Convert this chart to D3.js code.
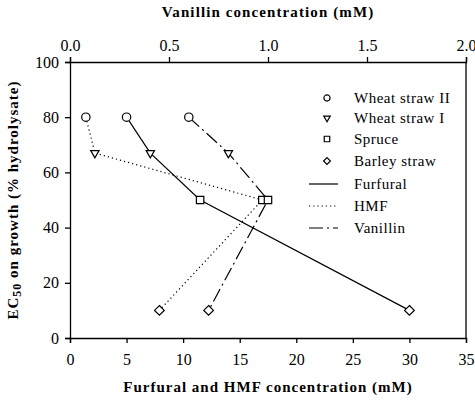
<!DOCTYPE html>
<html><head><meta charset="utf-8">
<script src="https://cdn.jsdelivr.net/npm/d3@7/dist/d3.min.js"></script>
<style>body{margin:0;background:#fff}svg{display:block}</style>
</head><body>
<svg id="c" width="475" height="404"></svg>
<script>
const substrates = ["Wheat straw II", "Wheat straw I", "Spruce", "Barley straw"];
const ec50 = [80, 67, 50, 10];
const furfural = [5.0, 7.1, 11.5, 30.0];
const hmf = [1.4, 2.2, 17.0, 7.9];
const vanillin = [0.60, 0.80, 1.00, 0.70];
const bottomTicks = [0, 5, 10, 15, 20, 25, 30, 35];
const topTicks = [0.0, 0.5, 1.0, 1.5, 2.0];
const yTicks = [0, 20, 40, 60, 80, 100];
const symbols = [d3.symbolCircle, d3.symbolTriangle2, d3.symbolSquare, d3.symbolDiamond2];
const rotations = [0, 180, 0, 0];

const FONT = "Liberation Serif, Times New Roman, Tinos, DejaVu Serif, serif";
const svg = d3.select("#c").attr("font-family", FONT);
const L = 70, R = 466, T = 62, B = 338;
const x = d3.scaleLinear().domain([0, 35]).range([L, R]);
const xTop = d3.scaleLinear().domain([0, 2]).range([L, R]);
const y = d3.scaleLinear().domain([0, 100]).range([B, T]);

function styleAxis(g){
  g.attr("font-family", FONT).attr("font-size", 16);
  g.selectAll("path").attr("stroke","#000").attr("stroke-width",1.3);
  g.selectAll("line").attr("stroke","#000").attr("stroke-width",1.3);
  g.selectAll("text").attr("fill","#000").style("font-family", FONT).style("font-size","16px");
}
svg.append("g").attr("transform",`translate(0,${B})`)
  .call(d3.axisBottom(x).tickValues(bottomTicks).tickFormat(d3.format("d")).tickSizeOuter(0).tickSize(5).tickPadding(11))
  .call(styleAxis);
svg.append("g").attr("transform",`translate(0,${T})`)
  .call(d3.axisTop(xTop).tickValues(topTicks).tickFormat(d3.format(".1f")).tickSizeOuter(0).tickSize(5).tickPadding(6))
  .call(styleAxis);
svg.append("g").attr("transform",`translate(${L},0)`)
  .call(d3.axisLeft(y).tickValues(yTicks).tickFormat(d3.format("d")).tickSizeOuter(0).tickSize(5).tickPadding(6))
  .call(styleAxis);
svg.append("line").attr("x1",R).attr("x2",R).attr("y1",T).attr("y2",B).attr("stroke","#000").attr("stroke-width",1.3);

function txt(sel){ return sel.style("font-family", FONT); }
// titles
txt(svg.append("text")).attr("x",268).attr("y",17).attr("text-anchor","middle").attr("font-size",15).attr("font-weight","bold").attr("letter-spacing",1.1).text("Vanillin concentration (mM)");
txt(svg.append("text")).attr("x",268).attr("y",392).attr("text-anchor","middle").attr("font-size",15).attr("font-weight","bold").attr("letter-spacing",1).text("Furfural and HMF concentration (mM)");
const yt = txt(svg.append("text")).attr("transform","translate(18,200) rotate(-90)").attr("text-anchor","middle").attr("font-size",15).attr("font-weight","bold").attr("letter-spacing",1);
yt.append("tspan").text("EC");
yt.append("tspan").attr("font-size",12).attr("dy",3).text("50");
yt.append("tspan").attr("dy",-3).text(" on growth (% hydrolysate)");

const seriesDefs = [
  {name:"Furfural", vals:furfural, sx:x, dash:null},
  {name:"HMF", vals:hmf, sx:x, dash:"1.2,3"},
  {name:"Vanillin", vals:vanillin, sx:xTop, dash:"14,4,2,4"}
];
const line = d3.line();
seriesDefs.forEach(s=>{
  const pts = s.vals.map((v,i)=>[s.sx(v), y(ec50[i])]);
  svg.append("path").attr("d",line(pts)).attr("fill","none").attr("stroke","#000").attr("stroke-width",1.2)
    .attr("stroke-dasharray",s.dash);
});
const sizes = [55, 50, 55, 60];
seriesDefs.forEach(s=>{
  s.vals.forEach((v,i)=>{
    svg.append("path").attr("d",d3.symbol(symbols[i], sizes[i])())
      .attr("transform",`translate(${s.sx(v)},${y(ec50[i])}) rotate(${rotations[i]})`)
      .attr("fill","#fff").attr("stroke","#000").attr("stroke-width",1.2);
  });
});

// legend
const legRows = [98,118,139,161];
substrates.forEach((n,i)=>{
  svg.append("path").attr("d",d3.symbol(symbols[i], 30)()).attr("transform",`translate(327,${legRows[i]}) rotate(${rotations[i]})`)
    .attr("fill","#fff").attr("stroke","#000").attr("stroke-width",1.2);
  txt(svg.append("text")).attr("x",354).attr("y",legRows[i]+5).attr("font-size",15).attr("letter-spacing",0.5).text(n);
});
const lineRows = [184,206,228];
seriesDefs.forEach((s,i)=>{
  svg.append("line").attr("x1",309).attr("x2",338).attr("y1",lineRows[i]).attr("y2",lineRows[i])
    .attr("stroke","#000").attr("stroke-width",1.2).attr("stroke-dasharray",s.dash);
  txt(svg.append("text")).attr("x",354).attr("y",lineRows[i]+5).attr("font-size",15).attr("letter-spacing",0.5).text(s.name);
});
</script>
</body></html>
